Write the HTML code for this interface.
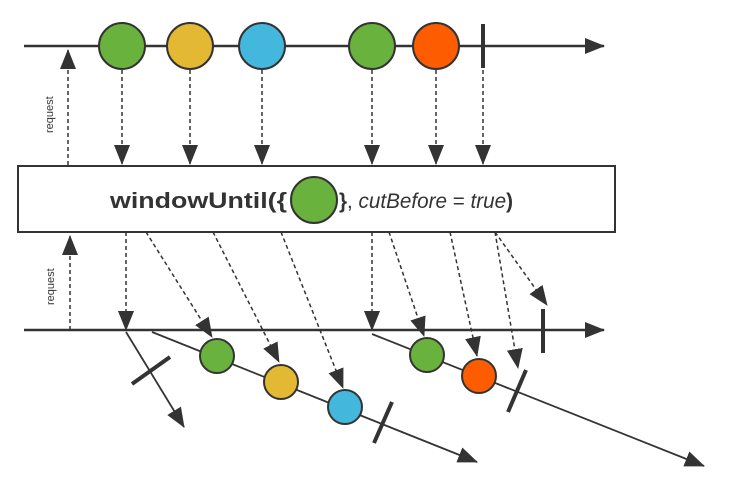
<!DOCTYPE html>
<html><head><meta charset="utf-8"><style>
html,body{margin:0;padding:0;background:#fff;width:740px;height:497px;overflow:hidden}
svg{display:block}
text{font-family:"Liberation Sans","DejaVu Sans",sans-serif;fill:#333}
</style></head><body>
<svg id="c" width="740" height="497" viewBox="0 0 740 497">
<defs>
<marker id="ahs" markerWidth="20" markerHeight="20" refX="19" refY="10" orient="auto" markerUnits="userSpaceOnUse" viewBox="0 0 20 20"><path d="M0,2 L20,10 L0,18 z" fill="#333"/></marker>
</defs>
</svg>
<script>
const srcX=[122,190,262,372,436];
const srcColors=["#6ab23e","#e3b934","#44b7dd","#6ab23e","#fe5c00"];
const completeX=483;
// windows: [startX,startY,endX,endY]
const windows=[[126,332,184,427],[152,332,477,462],[372,334,704,466]];
const winTicks=[[132,384,170,357],[374,443,392,402],[508,412,526,370]];
const outMarbles=[[217,356,0],[281,382,1],[345,407,2],[427,355,3],[479,376,4]];
const outArrows=[[126,232,126,330],[146,232,212,337],[213,232,279,362],[281,232,343,388],[372,232,372,330],[389,232,424,336],[450,232,477,356],[495,232,518,368],[495,232,547,305]];
const NS="http://www.w3.org/2000/svg";
const svg=document.getElementById('c');
function mk(t,a,p){const e=document.createElementNS(NS,t);for(const k in a)e.setAttribute(k,a[k]);(p||svg).appendChild(e);return e;}
let e;
e=mk('line',{x1:24,y1:46,x2:604,y2:46,stroke:'#333','stroke-width':2.5,'marker-end':'url(#ahs)'});


e=mk('line',{x1:68,y1:165,x2:68,y2:50,stroke:'#333','stroke-width':1.5,'stroke-dasharray':'4 3','marker-end':'url(#ahs)'});


e=mk('text',{x:0,y:0,'font-size':11,transform:'translate(53,133) rotate(-90)'});e.textContent='request';


srcX.forEach((x,i)=>{
 e=mk('line',{x1:x,y1:70,x2:x,y2:164,stroke:'#333','stroke-width':1.5,'stroke-dasharray':'4 3','marker-end':'url(#ahs)'});
 
 
 e=mk('circle',{cx:x,cy:46,r:23,fill:srcColors[i],stroke:'#333','stroke-width':2});
 
 
});
e=mk('line',{x1:completeX,y1:24,x2:completeX,y2:68,stroke:'#333','stroke-width':4});


e=mk('line',{x1:completeX,y1:70,x2:completeX,y2:164,stroke:'#333','stroke-width':1.5,'stroke-dasharray':'4 3','marker-end':'url(#ahs)'});


e=mk('rect',{x:18,y:166,width:597,height:66,fill:'#fff',stroke:'#333','stroke-width':2});


e=mk('text',{x:110,y:208,'font-size':22,'font-weight':'bold',textLength:177,lengthAdjust:'spacingAndGlyphs'});e.textContent='windowUntil({';


e=mk('circle',{cx:314,cy:200,r:23,fill:'#6ab23e',stroke:'#333','stroke-width':2});


e=mk('text',{x:339,y:208,'font-size':21,textLength:174,lengthAdjust:'spacingAndGlyphs'});
e.innerHTML='<tspan font-weight="bold">}</tspan>, <tspan font-style="italic">cutBefore</tspan> = <tspan font-style="italic">true</tspan><tspan font-weight="bold">)</tspan>';


e=mk('line',{x1:24,y1:330,x2:604,y2:330,stroke:'#333','stroke-width':2.5,'marker-end':'url(#ahs)'});


e=mk('line',{x1:70,y1:330,x2:70,y2:236,stroke:'#333','stroke-width':1.5,'stroke-dasharray':'4 3','marker-end':'url(#ahs)'});


e=mk('text',{x:0,y:0,'font-size':11,transform:'translate(54,305) rotate(-90)'});e.textContent='request';


e=mk('line',{x1:543,y1:309,x2:543,y2:353,stroke:'#333','stroke-width':4});


windows.forEach(w=>{
 e=mk('line',{x1:w[0],y1:w[1],x2:w[2],y2:w[3],stroke:'#333','stroke-width':1.8,'marker-end':'url(#ahs)'});
 
 
});
winTicks.forEach(t=>{
 e=mk('line',{x1:t[0],y1:t[1],x2:t[2],y2:t[3],stroke:'#333','stroke-width':4});
 
 
});
outArrows.forEach(a=>{
 e=mk('line',{x1:a[0],y1:a[1],x2:a[2],y2:a[3],stroke:'#333','stroke-width':1.5,'stroke-dasharray':'4 3','marker-end':'url(#ahs)'});
 
 
});
outMarbles.forEach(m=>{
 e=mk('circle',{cx:m[0],cy:m[1],r:17,fill:srcColors[m[2]],stroke:'#333','stroke-width':2});
 
 
});
</script>
</body></html>
